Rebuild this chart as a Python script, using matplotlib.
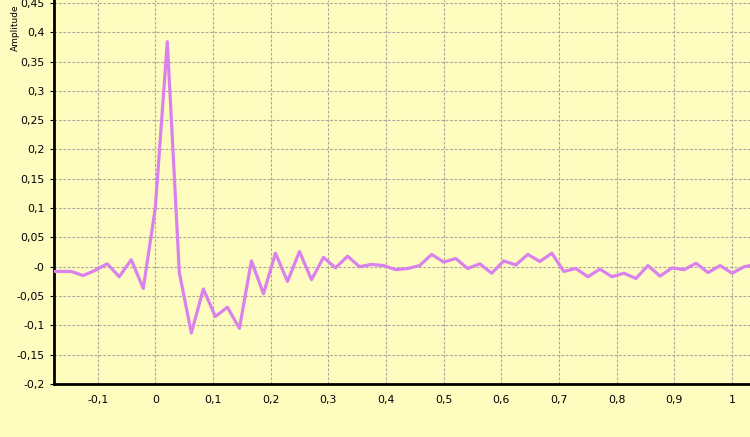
import numpy as np
import matplotlib
matplotlib.use('Agg')
import matplotlib.pyplot as plt
from matplotlib.ticker import FuncFormatter

# sample index (step of 1/48 s) and amplitude
sample_step = 1 / 48
first_sample = -9
amplitude = [
    -0.008, -0.008, -0.008, -0.015, -0.006, 0.005, -0.017, 0.012, -0.037,   # k=-9..-1
    0.100, 0.384, -0.010, -0.113, -0.038, -0.085, -0.069, -0.105,            # k=0..7
    0.010, -0.046, 0.023, -0.025, 0.026, -0.022, 0.016, -0.002, 0.018,       # k=8..16
    0.000, 0.004, 0.002, -0.005, -0.003, 0.002, 0.021, 0.008, 0.014,         # k=17..25
    -0.003, 0.005, -0.011, 0.010, 0.003, 0.021, 0.009, 0.023, -0.008,        # k=26..34
    -0.003, -0.017, -0.004, -0.017, -0.011, -0.020, 0.002, -0.016, -0.002,   # k=35..43
    -0.005, 0.006, -0.010, 0.002, -0.011, 0.000, 0.004,                      # k=44..50
]
time = (first_sample + np.arange(len(amplitude))) * sample_step

y_ticks = np.arange(-0.2, 0.451, 0.05)
x_ticks = np.arange(-0.1, 1.01, 0.1)

bg = '#FFFCC0'
line_color = '#D981EC'


def comma(v, pos):
    s = '%g' % round(v, 3)
    return s.replace('.', ',')


fig = plt.figure(figsize=(7.5, 4.37), dpi=100, facecolor=bg)
ax = fig.add_axes([54 / 750, 1 - 384 / 437, 1 - 54 / 750, 384 / 437])
ax.set_facecolor(bg)

ax.plot(time, amplitude, color=line_color, linewidth=2.3, zorder=3)

ax.set_xlim(-0.1756, 1.031)
ax.set_ylim(-0.2, 0.455)
ax.set_xticks(x_ticks)
ax.set_yticks(y_ticks)
ax.xaxis.set_major_formatter(FuncFormatter(comma))
ax.yaxis.set_major_formatter(FuncFormatter(comma))
ax.tick_params(labelsize=7.8, length=3, width=0.8, colors='black', pad=4)
ax.tick_params(axis='x', pad=8, length=0)

ax.grid(True, color='#ABA99C', linestyle=(0, (2.5, 1.5)), linewidth=0.8)
for side in ['top', 'right']:
    ax.spines[side].set_visible(False)
for side in ['left', 'bottom']:
    ax.spines[side].set_linewidth(2)
    ax.spines[side].set_color('black')

fig.text(15 / 750, 1 - 28 / 437, 'Amplitude', rotation=90, fontsize=6.5,
         ha='center', va='center')

fig.savefig('out.png', dpi=100, facecolor=bg)
